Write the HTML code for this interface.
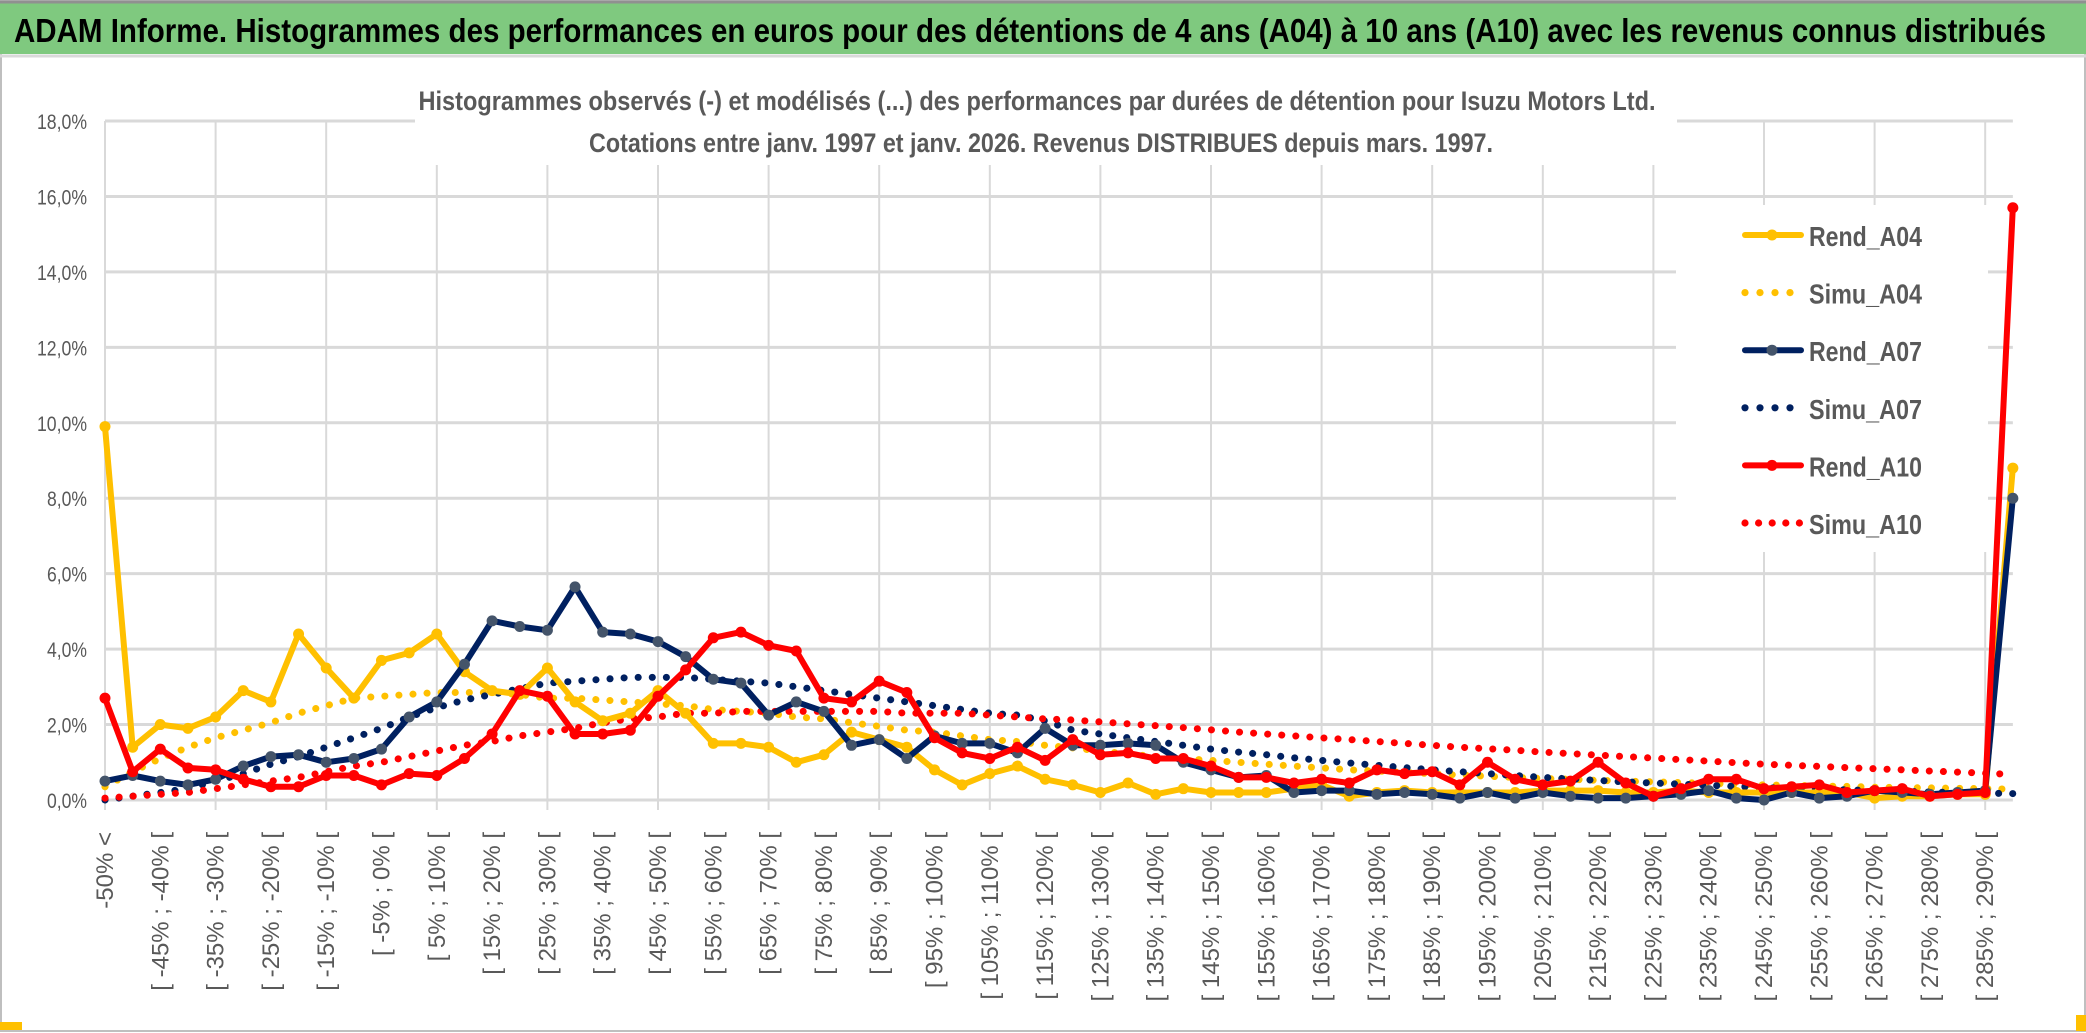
<!DOCTYPE html>
<html><head><meta charset="utf-8"><style>
html,body{margin:0;padding:0;background:#fff}
svg{display:block}
text{font-family:"Liberation Sans",sans-serif}
</style></head><body>
<svg id="chart" width="2086" height="1033" viewBox="0 0 2086 1033" xmlns="http://www.w3.org/2000/svg">
<rect x="0" y="0" width="2086" height="1033" fill="#fff"/>
<rect x="1" y="1" width="2084" height="1030" fill="none" stroke="#bfbfbf" stroke-width="2"/>
<rect x="0" y="3" width="2086" height="51" fill="#7fc97f"/>
<line x1="0" y1="2" x2="2086" y2="2" stroke="#909090" stroke-width="3"/>
<line x1="0" y1="56" x2="2086" y2="56" stroke="#d9d9d9" stroke-width="3"/>
<text x="14" y="42" font-size="33" font-weight="bold" fill="#000" textLength="2032" lengthAdjust="spacingAndGlyphs">ADAM Informe. Histogrammes des performances en euros pour des détentions de 4 ans (A04) à 10 ans (A10) avec les revenus connus distribués</text>
<g id="grid"></g>
<rect x="415" y="58" width="1262" height="107" fill="#fff"/>
<text x="1037" y="110" font-size="27" font-weight="bold" fill="#595959" text-anchor="middle" textLength="1237" lengthAdjust="spacingAndGlyphs">Histogrammes observés (-) et modélisés (...) des performances par durées de détention pour Isuzu Motors Ltd.</text>
<text x="1041" y="152" font-size="27" font-weight="bold" fill="#595959" text-anchor="middle" textLength="904" lengthAdjust="spacingAndGlyphs">Cotations entre janv. 1997 et janv. 2026. Revenus DISTRIBUES depuis mars. 1997.</text>
<g id="axes"></g>
<rect x="1676" y="205" width="312" height="347" fill="#fff"/>
<g id="series"></g>
<g id="legend"></g>
<rect x="0" y="1022" width="22" height="8" fill="#ffc000"/>
<rect x="2076" y="1015" width="10" height="16" fill="#ffc000"/>
</svg>
<script>
const categories = (function(){const c=["-50% <"];for(let i=1;i<70;i++){const s=-55+5*i;c.push(i===69?"> 290%":"[ "+s+"% ; "+(s+5)+"% [");}return c;})();
const yTicks = [0,2,4,6,8,10,12,14,16,18];
const yTickLabels = ["0,0%","2,0%","4,0%","6,0%","8,0%","10,0%","12,0%","14,0%","16,0%","18,0%"];
const rendA04 = [9.9,1.4,2.0,1.9,2.2,2.9,2.6,4.4,3.5,2.7,3.7,3.9,4.4,3.4,2.9,2.8,3.5,2.6,2.1,2.3,2.9,2.3,1.5,1.5,1.4,1.0,1.2,1.8,1.6,1.4,0.8,0.4,0.7,0.9,0.55,0.4,0.2,0.45,0.15,0.3,0.2,0.2,0.2,0.3,0.4,0.1,0.2,0.25,0.2,0.2,0.2,0.2,0.25,0.25,0.25,0.2,0.2,0.25,0.2,0.2,0.2,0.2,0.2,0.2,0.05,0.1,0.1,0.15,0.15,8.8];
const simuA04 = [0.35,0.75,1.1,1.4,1.65,1.85,2.05,2.3,2.5,2.7,2.75,2.8,2.85,2.85,2.85,2.8,2.7,2.7,2.65,2.6,2.55,2.5,2.4,2.35,2.3,2.2,2.15,2.05,1.95,1.85,1.8,1.7,1.6,1.55,1.45,1.38,1.3,1.22,1.15,1.1,1.05,1.0,0.95,0.9,0.85,0.8,0.77,0.73,0.7,0.66,0.63,0.6,0.57,0.55,0.52,0.5,0.48,0.46,0.44,0.42,0.4,0.39,0.37,0.36,0.34,0.33,0.32,0.31,0.3,0.29];
const rendA07 = [0.5,0.65,0.5,0.4,0.55,0.9,1.15,1.2,1.0,1.1,1.35,2.2,2.6,3.6,4.75,4.6,4.5,5.65,4.45,4.4,4.2,3.8,3.2,3.1,2.25,2.6,2.35,1.45,1.6,1.1,1.7,1.5,1.5,1.25,1.9,1.45,1.45,1.5,1.45,1.0,0.8,0.6,0.65,0.2,0.25,0.25,0.15,0.2,0.15,0.05,0.2,0.05,0.2,0.1,0.05,0.05,0.1,0.15,0.25,0.05,0.0,0.2,0.05,0.1,0.25,0.2,0.15,0.2,0.25,8.0];
const simuA07 = [0.0,0.1,0.2,0.3,0.5,0.7,0.95,1.15,1.4,1.65,1.9,2.2,2.45,2.65,2.8,2.95,3.1,3.15,3.2,3.25,3.25,3.25,3.2,3.15,3.1,3.0,2.9,2.8,2.7,2.6,2.5,2.4,2.3,2.25,2.1,1.85,1.75,1.65,1.55,1.45,1.35,1.27,1.2,1.12,1.05,0.98,0.92,0.86,0.8,0.75,0.7,0.65,0.6,0.56,0.52,0.48,0.45,0.42,0.39,0.36,0.33,0.31,0.29,0.27,0.25,0.23,0.21,0.2,0.18,0.17];
const rendA10 = [2.7,0.75,1.35,0.85,0.8,0.55,0.35,0.35,0.65,0.65,0.4,0.7,0.65,1.1,1.75,2.9,2.75,1.75,1.75,1.85,2.75,3.45,4.3,4.45,4.1,3.95,2.7,2.6,3.15,2.85,1.65,1.25,1.1,1.4,1.05,1.6,1.2,1.25,1.1,1.1,0.9,0.6,0.6,0.45,0.55,0.45,0.8,0.7,0.75,0.4,1.0,0.55,0.4,0.5,1.0,0.45,0.1,0.3,0.55,0.55,0.3,0.35,0.4,0.2,0.25,0.3,0.1,0.15,0.2,15.7];
const simuA10 = [0.05,0.1,0.15,0.2,0.3,0.4,0.5,0.6,0.75,0.9,1.0,1.15,1.3,1.45,1.55,1.7,1.8,1.9,2.05,2.15,2.2,2.3,2.3,2.35,2.35,2.35,2.35,2.35,2.35,2.3,2.3,2.3,2.25,2.2,2.15,2.12,2.07,2.02,1.97,1.92,1.86,1.8,1.75,1.7,1.65,1.6,1.55,1.5,1.45,1.4,1.36,1.32,1.27,1.23,1.19,1.15,1.11,1.07,1.03,0.99,0.95,0.92,0.89,0.86,0.83,0.8,0.77,0.74,0.71,0.68];

const NS="http://www.w3.org/2000/svg";
const X0=105, STEP=27.65, Y0=800, YPX=37.72;
function xScale(i){return X0+STEP*i;}
function yScale(v){return Y0-v*YPX;}
function mk(tag,attrs,parent){const e=document.createElementNS(NS,tag);for(const k in attrs)e.setAttribute(k,attrs[k]);parent.appendChild(e);return e;}

const grid=document.getElementById('grid');
const axes=document.getElementById('axes');
const series=document.getElementById('series');
const legend=document.getElementById('legend');
const xEnd=xScale(categories.length-1);

yTicks.forEach(function(t,k){
  const y=yScale(t);
  const gl=mk('line',{x1:X0,y1:y,x2:xEnd,y2:y,stroke:'#d9d9d9','stroke-width':3},grid);
  
  
  const lb=mk('text',{x:87,y:y+8,'font-size':21,fill:'#595959','text-anchor':'end',textLength:yTickLabels[k].length*10,lengthAdjust:'spacingAndGlyphs'},axes);
  lb.textContent=yTickLabels[k];
  
  
});
for(let i=0;i<categories.length;i+=4){
  const x=xScale(i);
  const gl=mk('line',{x1:x,y1:yScale(18),x2:x,y2:Y0+10,stroke:'#d9d9d9','stroke-width':2},grid);
  
  
}
categories.forEach(function(c,i){
  if(i%2!==0) return;
  const x=xScale(i)+8;
  const t=mk('text',{x:x,y:832,'font-size':24,fill:'#595959','text-anchor':'end',transform:'rotate(-90 '+x+' 832)'},axes);
  t.textContent=c;
  
  
});

function pts(arr){return arr.map(function(v,i){return xScale(i).toFixed(1)+','+yScale(v).toFixed(1);}).join(' ');}
function dotted(arr,color,name){
  const p=mk('polyline',{points:pts(arr),fill:'none',stroke:color,'stroke-width':7,'stroke-linecap':'round','stroke-dasharray':'0.1 14'},series);
  
  
}
function solid(arr,color,mcolor,name){
  const g=mk('g',{},series);
  
  
  mk('polyline',{points:pts(arr),fill:'none',stroke:color,'stroke-width':6,'stroke-linejoin':'round'},g);
  arr.forEach(function(v,i){
    const c=mk('circle',{cx:xScale(i),cy:yScale(v),r:5.5,fill:mcolor},g);
    
    
  });
}
dotted(simuA04,'#ffc000','simu-a04-line');
dotted(simuA07,'#002060','simu-a07-line');
dotted(simuA10,'#ff0000','simu-a10-line');
solid(rendA04,'#ffc000','#ffc000','rend-a04-line');
solid(rendA07,'#002060','#44546a','rend-a07-line');
solid(rendA10,'#ff0000','#ff0000','rend-a10-line');

const legendNames=["Rend_A04","Simu_A04","Rend_A07","Simu_A07","Rend_A10","Simu_A10"];
const legendColors=["#ffc000","#ffc000","#002060","#002060","#ff0000","#ff0000"];
const legendMarkers=["#ffc000","","#44546a","","#ff0000",""];
legendNames.forEach(function(n,k){
  const y=235+57.6*k;
  const g=mk('g',{},legend);
  
  
  if(legendMarkers[k]){
    mk('line',{x1:1745,y1:y,x2:1801,y2:y,stroke:legendColors[k],'stroke-width':6,'stroke-linecap':'round'},g);
    mk('circle',{cx:1772,cy:y,r:5.5,fill:legendMarkers[k]},g);
  } else {
    const nd = k===5?5:4;
    for(let d=0;d<nd;d++) mk('circle',{cx:1745+d*(k===5?13.6:15),cy:y,r:3.6,fill:legendColors[k]},g);
  }
  const t=mk('text',{x:1809,y:y+11,'font-size':28,'font-weight':'bold',fill:'#595959',textLength:113,lengthAdjust:'spacingAndGlyphs'},g);
  t.textContent=n;
});
</script>
</body></html>
